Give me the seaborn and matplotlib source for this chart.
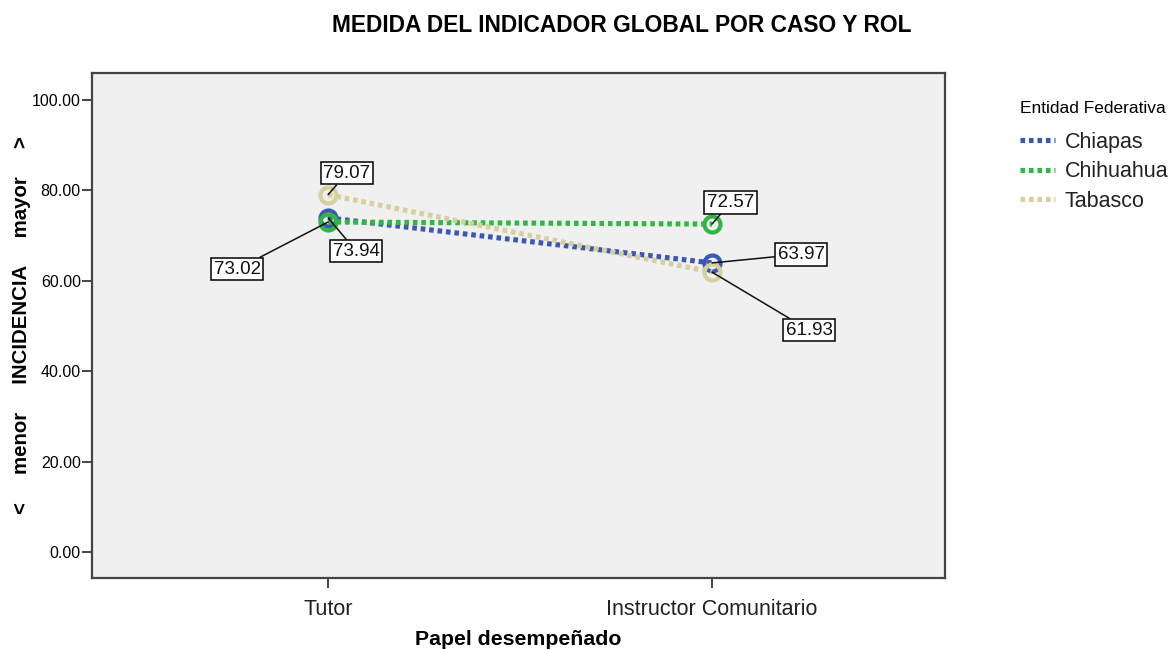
import matplotlib
matplotlib.use("Agg")
import matplotlib.pyplot as plt
import seaborn as sns
import pandas as pd
from matplotlib.lines import Line2D

# Mean global indicator by state and role
roles = ["Tutor", "Instructor Comunitario"]
states = ["Chiapas", "Chihuahua", "Tabasco"]
chiapas = [73.94, 63.97]
chihuahua = [73.02, 72.57]
tabasco = [79.07, 61.93]
colors = ["#3d57b4", "#30b743", "#d6cf9e"]

df = pd.DataFrame({
    "Papel": roles * 3,
    "Entidad": [s for s in states for _ in roles],
    "Valor": chiapas + chihuahua + tabasco,
})

sns.set_theme(style="white")
plt.rcParams["font.family"] = ["Liberation Sans", "DejaVu Sans"]
for key in ["text.color", "axes.labelcolor", "xtick.color", "ytick.color"]:
    plt.rcParams[key] = "black"

fig = plt.figure(figsize=(11.76, 6.5), dpi=100)
ax = fig.add_axes([0.0782, 0.1108, 0.7254, 0.7769])
ax.set_facecolor("#f0f0f0")

sns.pointplot(data=df, x="Papel", y="Valor", hue="Entidad", order=roles,
              hue_order=states, palette=colors, markers="o", linestyles=":",
              dodge=False, errorbar=None, ax=ax, legend=False)

DOTS = (0.9, 0.75)
for ln in ax.lines:
    ln.set_linewidth(3.7)
    ln.set_dashes(DOTS)
    ln.set_markerfacecolor("none")
    ln.set_markeredgewidth(3.0)
    ln.set_markersize(11.5)

ax.set_xlim(-0.615, 1.607)
ax.set_ylim(-5.75, 106)
yt = [0, 20, 40, 60, 80, 100]
ax.set_yticks(yt)
ax.set_yticklabels([f"{v:.2f}" for v in yt], fontsize=11.5)
ax.tick_params(axis="both", which="both", direction="out", length=7, width=1.4,
               color="#444444", bottom=True, left=True)
ax.tick_params(axis="y", pad=1)
ax.tick_params(axis="x", labelsize=15.5, pad=8, labelcolor="#222222")
for sp in ax.spines.values():
    sp.set_color("#444444")
    sp.set_linewidth(1.6)
    sp.set_visible(True)

ax.set_xlabel("Papel desempeñado", fontsize=15.3, fontweight="bold", labelpad=7)
ax.set_ylabel("<     menor     INCIDENCIA     mayor     >", fontsize=14.7,
              fontweight="bold", labelpad=1)
fig.text(0.529, 1 - 25 / 650, "MEDIDA DEL INDICADOR GLOBAL POR CASO Y ROL",
         ha="center", va="center", fontsize=16.4, fontweight="bold")

# Value labels with leader lines
series = [chiapas, chihuahua, tabasco]
label_pos = {
    (0, 0): (0.073, 66.6), (0, 1): (1.232, 65.9),
    (1, 0): (-0.237, 62.6), (1, 1): (1.049, 77.4),
    (2, 0): (0.049, 83.85), (2, 1): (1.253, 49.1),
}
for si, vals in enumerate(series):
    for ri, v in enumerate(vals):
        tx, ty = label_pos[(si, ri)]
        ax.annotate(f"{v:.2f}", xy=(ri, v), xytext=(tx, ty), ha="center",
                    va="center", fontsize=13.5, color="#111111",
                    bbox=dict(boxstyle="square,pad=0.15", fc="white", ec="black", lw=1.1),
                    arrowprops=dict(arrowstyle="-", color="#111111", lw=1.1,
                                    shrinkA=0, shrinkB=0))

handles = [Line2D([0], [0], color=c, lw=3.7, dashes=DOTS) for c in colors]
leg = fig.legend(handles, states, title="Entidad Federativa", loc="upper left",
                 bbox_to_anchor=(0.8677, 0.844), frameon=False, fontsize=15.5,
                 title_fontsize=12.5, handlelength=1.6, handletextpad=0.45,
                 labelspacing=0.4, borderaxespad=0, borderpad=0)
leg._legend_box.align = "left"
leg._legend_box.sep = 11
for t in leg.get_texts():
    t.set_color("#222222")

fig.savefig("out.png", dpi=100)
